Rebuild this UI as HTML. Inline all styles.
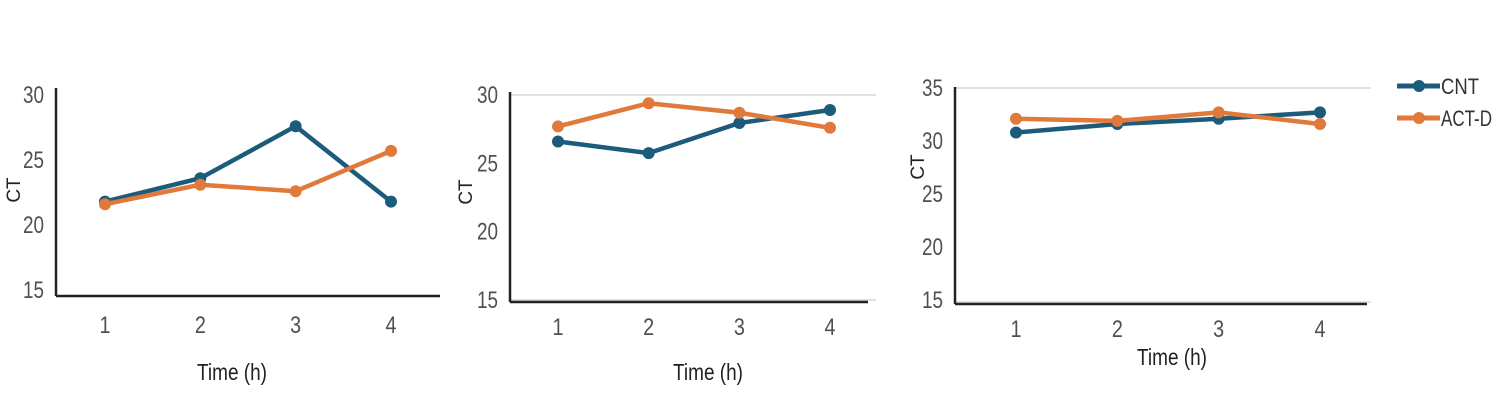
<!DOCTYPE html>
<html><head><meta charset="utf-8">
<style>
html,body{margin:0;padding:0;background:#fff;}
svg{display:block;font-family:"Liberation Sans",sans-serif;}
</style></head>
<body>
<svg id="root" width="1495" height="412" viewBox="0 0 1495 412"></svg>
<script>
const categories = [1, 2, 3, 4];
const seriesNames = ["CNT", "ACT-D"];
const chart1CNT = [21.8, 23.6, 27.6, 21.8];
const chart1ACTD = [21.6, 23.1, 22.6, 25.7];
const chart2CNT = [26.6, 25.75, 27.95, 28.9];
const chart2ACTD = [27.7, 29.4, 28.7, 27.6];
const chart3CNT = [30.8, 31.6, 32.1, 32.7];
const chart3ACTD = [32.1, 31.9, 32.7, 31.6];
const ticks1 = [15, 20, 25, 30];
const ticks2 = [15, 20, 25, 30];
const ticks3 = [15, 20, 25, 30, 35];

const colors = ["#1d5b7a", "#e0793a"];
const NS = "http://www.w3.org/2000/svg";
const root = document.getElementById('root');
function mk(tag, attrs, parent) {
  const e = document.createElementNS(NS, tag);
  for (const k in attrs) e.setAttribute(k, attrs[k]);
  (parent || root).appendChild(e);
  return e;
}
const charts = [
  {name:"chart-1", cnt:chart1CNT, act:chart1ACTD, ticks:ticks1, ymin:15, ymax:30, yTop:95, yBot:290,
   axisX:56, axisTop:88, axisY:296, axisRight:440, x1:105, x4:391, grid:false,
   ctX:14, ctY:190, timeX:232, timeY:380, tickY:333},
  {name:"chart-2", cnt:chart2CNT, act:chart2ACTD, ticks:ticks2, ymin:15, ymax:30, yTop:95, yBot:300,
   axisX:510, axisTop:92, axisY:302, axisRight:868, x1:558, x4:830, grid:true, gridRight:876,
   ctX:466, ctY:192, timeX:708, timeY:380, tickY:335},
  {name:"chart-3", cnt:chart3CNT, act:chart3ACTD, ticks:ticks3, ymin:15, ymax:35, yTop:88, yBot:300,
   axisX:955, axisTop:87, axisY:304, axisRight:1367, x1:1016, x4:1320, grid:true, gridRight:1371,
   ctX:918, ctY:167, timeX:1172, timeY:365, tickY:337}
];
charts.forEach(c => {
  const g = mk('g', {});
  
  
  const ys = v => c.yBot - (v - c.ymin) / (c.ymax - c.ymin) * (c.yBot - c.yTop);
  const xs = v => c.x1 + (v - categories[0]) / (categories[categories.length-1] - categories[0]) * (c.x4 - c.x1);
  if (c.grid) {
    const gl = mk('line', {x1:c.axisX, x2:c.gridRight, y1:ys(c.ymax), y2:ys(c.ymax), stroke:'#d6d6d6', 'stroke-width':1.5}, g);
    
    
    const gb = mk('line', {x1:c.axisX, x2:c.gridRight, y1:c.axisY-2, y2:c.axisY-2, stroke:'#d6d6d6', 'stroke-width':1.5}, g);
    
    
  }
  const ya = mk('line', {x1:c.axisX, x2:c.axisX, y1:c.axisTop, y2:c.axisY, stroke:'#222', 'stroke-width':2.5}, g);
  
  
  const xa = mk('line', {x1:c.axisX, x2:c.axisRight, y1:c.axisY, y2:c.axisY, stroke:'#222', 'stroke-width':2.5}, g);
  
  
  c.ticks.forEach(t => {
    const tx = mk('text', {x:c.axisX-12, y:ys(t)+8, 'text-anchor':'end', 'font-size':24, fill:'#505050', 'textLength':21, lengthAdjust:'spacingAndGlyphs'}, g);
    tx.textContent = t;
    
    
  });
  categories.forEach(cat => {
    const tx = mk('text', {x:xs(cat), y:c.tickY, 'text-anchor':'middle', 'font-size':24, fill:'#505050', 'textLength':11, lengthAdjust:'spacingAndGlyphs'}, g);
    tx.textContent = cat;
    
    
  });
  const ct = mk('text', {x:c.ctX, y:c.ctY, 'text-anchor':'middle', 'font-size':19, fill:'#222', transform:`rotate(-90 ${c.ctX} ${c.ctY})`, dy:6}, g);
  ct.textContent = 'CT';
  
  
  const tt = mk('text', {x:c.timeX, y:c.timeY, 'text-anchor':'middle', 'font-size':23, fill:'#222', textLength:70, lengthAdjust:'spacingAndGlyphs'}, g);
  tt.textContent = 'Time (h)';
  
  
  [c.cnt, c.act].forEach((vals, si) => {
    const pts = vals.map((v, i) => xs(categories[i]) + ',' + ys(v)).join(' ');
    const pl = mk('polyline', {points:pts, fill:'none', stroke:colors[si], 'stroke-width':4.5, 'stroke-linejoin':'round'}, g);
    
    
    vals.forEach((v, i) => {
      const m = mk('circle', {cx:xs(categories[i]), cy:ys(v), r:6, fill:colors[si]}, g);
      
      
    });
  });
});
// legend
const legendWidths = [38, 51];
const lg = mk('g', {});


seriesNames.forEach((n, i) => {
  const y = 86 + i * 32;
  const l = mk('line', {x1:1397, x2:1440, y1:y, y2:y, stroke:colors[i], 'stroke-width':5}, lg);
  
  
  const cc = mk('circle', {cx:1419, cy:y, r:6, fill:colors[i]}, lg);
  
  
  const t = mk('text', {x:1441, y:y+8, 'font-size':22, fill:'#333', textLength:legendWidths[i], lengthAdjust:'spacingAndGlyphs'}, lg);
  t.textContent = n;
  
  
});
</script>
</body></html>
